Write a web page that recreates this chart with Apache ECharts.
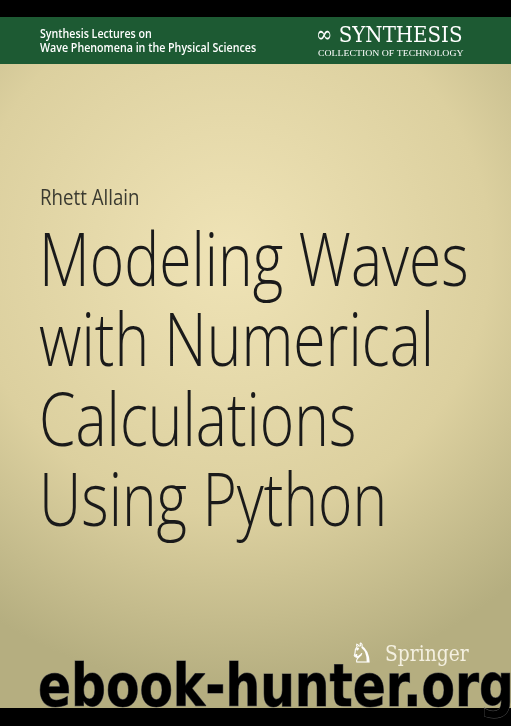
<!DOCTYPE html>
<html>
<head>
<meta charset="utf-8">
<script src="https://cdn.jsdelivr.net/npm/echarts@6/dist/echarts.min.js"></script>
<style>html,body{margin:0;padding:0;background:#000}#main{width:511px;height:726px}</style>
</head>
<body>
<div id="main"></div>
<script>
var seriesLines = ['Synthesis Lectures on', 'Wave Phenomena in the Physical Sciences']
var author = 'Rhett Allain'
var titleLines = ['Modeling Waves', 'with Numerical', 'Calculations', 'Using Python']
var titleTops = [229, 309, 389, 469]

var myChart = echarts.init(document.getElementById('main'))
var elements = []

// background
elements.push({
  type: 'rect', shape: { x: 0, y: 0, width: 511, height: 726 },
  style: { fill: new echarts.graphic.RadialGradient(0.45, 0.35, 0.85, [
    { offset: 0, color: '#efe3b6' },
    { offset: 0.6, color: '#dcd09f' },
    { offset: 1, color: '#b5ae80' }
  ]) }
})
elements.push({ type: 'rect', shape: { x: 0, y: 0, width: 511, height: 17 }, style: { fill: '#000' } })
elements.push({ type: 'rect', shape: { x: 0, y: 17, width: 511, height: 47 }, style: { fill: '#1d5a33' } })

seriesLines.forEach(function (t, i) {
  elements.push({
    type: 'text', x: 40, y: 41 + i * 14,
    style: { text: t, fill: '#fff', font: '600 13px "Open Sans"', textVerticalAlign: 'bottom' },
    scaleX: 0.82
  })
})
elements.push({
  type: 'text', x: 316, y: 48,
  style: { text: '∞ SYNTHESIS', fill: '#fff', font: '23px "DejaVu Serif"', textVerticalAlign: 'bottom' },
  scaleX: 0.86
})
elements.push({
  type: 'text', x: 318, y: 58,
  style: { text: 'COLLECTION OF TECHNOLOGY', fill: '#fff', font: '8.5px "Liberation Serif"', textVerticalAlign: 'bottom' },
  scaleX: 1.15
})

elements.push({
  type: 'text', x: 40, y: 210,
  style: { text: author, fill: '#3a3a30', font: '22px "Open Sans"', textVerticalAlign: 'bottom' },
  scaleX: 0.85
})

titleLines.forEach(function (t, i) {
  elements.push({
    type: 'text', x: 39, y: titleTops[i],
    style: { text: t, fill: '#1a1a1a', font: '300 73px "Open Sans"', textVerticalAlign: 'top' },
    scaleX: 0.805
  })
})

elements.push({
  type: 'text', x: 385, y: 666,
  style: { text: 'Springer', fill: '#f4f0e0', font: '22px "DejaVu Serif"', textVerticalAlign: 'bottom' },
  scaleX: 0.85
})
elements.push({
  type: 'text', x: 350, y: 668,
  style: { text: '♞', fill: 'none', stroke: '#fff', lineWidth: 1, font: '26px "DejaVu Sans"', textVerticalAlign: 'bottom' }
})

elements.push({ type: 'rect', shape: { x: 0, y: 708, width: 511, height: 18 }, style: { fill: '#000' } })
elements.push({
  type: 'text', x: 38, y: 720,
  style: { text: 'ebook-hunter.org', fill: '#000', stroke: '#555', lineWidth: 1, font: 'bold 58px "DejaVu Sans"', textVerticalAlign: 'bottom' },
  scaleX: 0.84
})

var option = { graphic: { elements: elements } }
option && myChart.setOption(option)
</script>
</body>
</html>
